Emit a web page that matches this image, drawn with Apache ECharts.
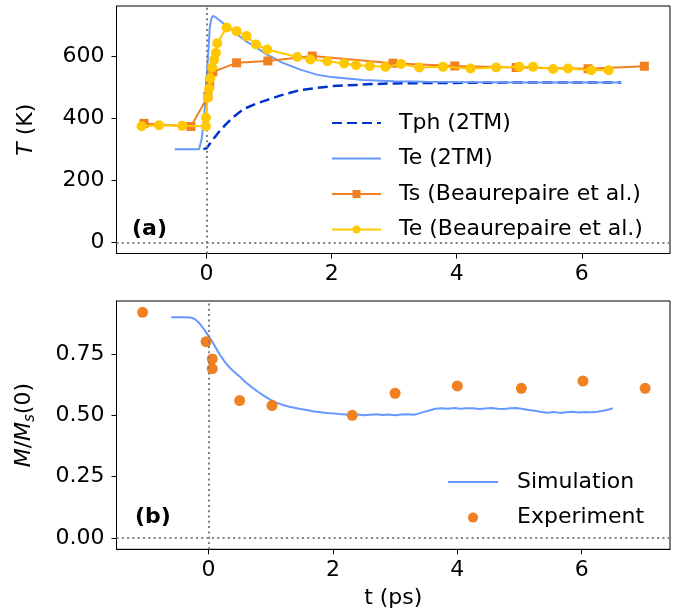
<!DOCTYPE html>
<html>
<head>
<meta charset="utf-8">
<script src="https://cdn.jsdelivr.net/npm/echarts@6/dist/echarts.min.js"></script>
<style>
html,body{margin:0;padding:0;background:#fff;}
#chart{width:677px;height:614px;}
</style>
</head>
<body>
<div id="chart"></div>
<script>
// ---- Panel (a): temperatures ----
const tphTime = [-0.05, 0, 0.1, 0.2, 0.3, 0.43, 0.6, 0.8, 0.96, 1.2, 1.49, 1.75, 2.02, 2.4, 2.82, 3.5, 4.5, 5.5, 6.63];
const tphTemp = [300, 303, 330, 356, 378, 404, 430, 447, 458, 474, 490, 497, 503, 507, 511, 513, 514, 515, 515];

const te2tmTime = [-0.51, -0.12, -0.08, -0.04, -0.02, 0, 0.03, 0.05, 0.08, 0.105, 0.15, 0.2, 0.27, 0.4, 0.5, 0.64, 0.8, 0.96, 1.22, 1.5, 1.76, 2.0, 2.5, 3.0, 3.5, 4.0, 5.0, 6.0, 6.63];
const te2tmTemp = [300, 300, 330, 400, 460, 530, 620, 690, 722, 729, 724, 716, 705, 685, 668, 646, 627, 605, 578, 556, 540, 532, 523, 519, 517, 516, 515, 515, 515];

const tsTime = [-1.0, -0.25, 0.02, 0.05, 0.1, 0.48, 0.98, 1.69, 2.98, 3.97, 4.95, 6.1, 7.0];
const tsTemp = [383, 373, 470, 506, 549, 578, 584, 600, 577, 568, 563, 559, 567];

const teBTime = [-1.04, -0.76, -0.39, -0.01, -0.01, 0.02, 0.04, 0.06, 0.09, 0.12, 0.15, 0.17, 0.32, 0.48, 0.64, 0.79, 0.97, 1.45, 1.66, 1.93, 2.2, 2.39, 2.61, 2.86, 3.11, 3.4, 3.78, 4.22, 4.63, 5.0, 5.22, 5.54, 5.78, 6.15, 6.43];
const teBTemp = [374, 377, 375, 374, 401, 466, 495, 528, 563, 588, 610, 641, 692, 680, 664, 637, 621, 597, 589, 583, 576, 570, 568, 565, 574, 563, 565, 560, 563, 565, 565, 558, 560, 554, 554];

const tempTicks = [0, 200, 400, 600];
const timeTicks = [0, 2, 4, 6];

// ---- Panel (b): magnetisation ----
const simTime = [-0.6, -0.5, -0.4, -0.3, -0.25, -0.2, -0.15, -0.1, -0.05, 0, 0.05, 0.1, 0.15, 0.2, 0.25, 0.3, 0.35, 0.4, 0.5, 0.6, 0.7, 0.8, 0.9, 1.0, 1.1, 1.2, 1.3, 1.4, 1.5, 1.6, 1.7, 1.8, 1.9, 2.0, 2.1, 2.2, 2.3, 2.4, 2.5, 2.6, 2.7, 2.8, 2.9, 3.0, 3.1, 3.2, 3.3, 3.35, 3.45, 3.55, 3.65, 3.75, 3.85, 3.95, 4.05, 4.15, 4.25, 4.35, 4.45, 4.55, 4.65, 4.75, 4.85, 4.95, 5.05, 5.15, 5.25, 5.35, 5.45, 5.55, 5.65, 5.75, 5.85, 5.95, 6.05, 6.15, 6.25, 6.35, 6.45, 6.5];
const simM = [0.900, 0.900, 0.900, 0.899, 0.896, 0.888, 0.876, 0.860, 0.842, 0.823, 0.805, 0.783, 0.760, 0.740, 0.722, 0.706, 0.692, 0.680, 0.658, 0.634, 0.614, 0.595, 0.578, 0.563, 0.551, 0.542, 0.535, 0.530, 0.525, 0.521, 0.516, 0.513, 0.510, 0.508, 0.505, 0.503, 0.501, 0.503, 0.500, 0.502, 0.504, 0.501, 0.503, 0.500, 0.503, 0.504, 0.502, 0.505, 0.513, 0.520, 0.527, 0.529, 0.527, 0.530, 0.527, 0.529, 0.529, 0.526, 0.528, 0.530, 0.527, 0.526, 0.529, 0.530, 0.526, 0.522, 0.519, 0.514, 0.511, 0.514, 0.510, 0.513, 0.515, 0.512, 0.514, 0.513, 0.515, 0.519, 0.525, 0.529];

const expTime = [-1.06, -0.04, 0.06, 0.06, 0.5, 1.02, 2.31, 3.0, 4.0, 5.03, 6.02, 7.02];
const expM = [0.92, 0.80, 0.73, 0.69, 0.56, 0.54, 0.50, 0.59, 0.62, 0.61, 0.64, 0.61];

const magTicks = [0, 0.25, 0.5, 0.75];

const zip = (a, b) => a.map((v, i) => [v, b[i]]);

const FONT = 'DejaVu Sans';
const C_DARK = '#0033cc', C_LIGHT = '#6699ff', C_ORANGE = '#f08020', C_GOLD = '#ffc800';

const dotted = {color: '#808080', type: [2, 3.3], width: 2};
function refLines() {
  return {
    silent: true, symbol: 'none', animation: false,
    label: {show: false},
    lineStyle: dotted,
    emphasis: {disabled: true},
    data: [{xAxis: 0}, {yAxis: 0}]
  };
}

function xAxisCfg(grid, min, max) {
  return {
    type: 'value', gridIndex: grid, min: min, max: max,
    splitLine: {show: false},
    axisLine: {show: true, onZero: false, lineStyle: {color: '#000', width: 1}},
    axisTick: {show: true, length: 5, lineStyle: {color: '#000'}, customValues: timeTicks},
    axisLabel: {show: true, margin: 10, color: '#000', fontSize: 22, fontFamily: FONT, customValues: timeTicks}
  };
}

const hiddenMarker = {opacity: 0, borderWidth: 0};

const option = {
  animation: false,
  backgroundColor: '#fff',
  textStyle: {fontFamily: FONT},
  grid: [
    {left: 116.5, top: 6, width: 553.5, height: 247.5, show: true, borderColor: '#000', borderWidth: 1, containLabel: false},
    {left: 116.5, top: 301, width: 553.5, height: 248.3, show: true, borderColor: '#000', borderWidth: 1, containLabel: false}
  ],
  xAxis: [
    xAxisCfg(0, -1.44, 7.41),
    Object.assign(xAxisCfg(1, -1.48, 7.42), {
      name: 't (ps)', nameLocation: 'middle', nameGap: 38,
      nameTextStyle: {fontSize: 22, color: '#000', fontFamily: FONT}
    })
  ],
  yAxis: [
    {
      type: 'value', gridIndex: 0, min: -36, max: 761,
      splitLine: {show: false},
      axisLine: {show: true, onZero: false, lineStyle: {color: '#000', width: 1}},
      axisTick: {show: true, length: 5, lineStyle: {color: '#000'}, customValues: tempTicks},
      axisLabel: {show: true, margin: 12, color: '#000', fontSize: 22, fontFamily: FONT, customValues: tempTicks},
      name: '{i|T} (K)', nameLocation: 'middle', nameGap: 79,
      nameTextStyle: {fontSize: 22, color: '#000', fontFamily: FONT,
        rich: {i: {fontStyle: 'italic', fontSize: 22, fontFamily: FONT, color: '#000'}}}
    },
    {
      type: 'value', gridIndex: 1, min: -0.046, max: 0.966,
      splitLine: {show: false},
      axisLine: {show: true, onZero: false, lineStyle: {color: '#000', width: 1}},
      axisTick: {show: true, length: 5, lineStyle: {color: '#000'}, customValues: magTicks},
      axisLabel: {show: true, margin: 12, color: '#000', fontSize: 22, fontFamily: FONT, customValues: magTicks,
        formatter: v => v.toFixed(2)},
      name: '{i|M}{n|/}{i|M}{s|s}{n|(0)}', nameLocation: 'middle', nameGap: 79,
      nameTextStyle: {fontSize: 22, color: '#000', fontFamily: FONT,
        rich: {
          i: {fontStyle: 'italic', fontSize: 22, fontFamily: FONT, color: '#000', lineHeight: 26, verticalAlign: 'middle'},
          n: {fontSize: 22, fontFamily: FONT, color: '#000', lineHeight: 26, verticalAlign: 'middle'},
          s: {fontStyle: 'italic', fontSize: 15, fontFamily: FONT, color: '#000', lineHeight: 12, verticalAlign: 'bottom'}
        }}
    }
  ],
  legend: [
    {
      orient: 'vertical', left: 331, top: 111, itemWidth: 49, itemHeight: 10, itemGap: 11.5,
      padding: 0, selectedMode: false,
      textStyle: {fontSize: 22, fontFamily: FONT, color: '#000', lineHeight: 24, padding: [0, 0, 0, 13]},
      data: [
        {name: 'Tph (2TM)', itemStyle: hiddenMarker},
        {name: 'Te (2TM)', itemStyle: hiddenMarker},
        'Ts (Beaurepaire et al.)',
        'Te (Beaurepaire et al.)'
      ]
    },
    {
      orient: 'vertical', left: 447, top: 470, itemWidth: 50, itemHeight: 10, itemGap: 11.6,
      padding: 0, selectedMode: false,
      textStyle: {fontSize: 22, fontFamily: FONT, color: '#000', lineHeight: 24, padding: [0, 0, 0, 14]},
      data: [
        {name: 'Simulation', itemStyle: hiddenMarker},
        'Experiment'
      ]
    }
  ],
  series: [
    {
      name: 'Tph (2TM)', type: 'line', xAxisIndex: 0, yAxisIndex: 0,
      data: zip(tphTime, tphTemp), symbol: 'none', color: C_DARK,
      lineStyle: {color: C_DARK, width: 2.5, type: [10, 5]},
      markLine: refLines(), z: 2
    },
    {
      name: 'Te (2TM)', type: 'line', xAxisIndex: 0, yAxisIndex: 0,
      data: zip(te2tmTime, te2tmTemp), symbol: 'none', color: C_LIGHT,
      lineStyle: {color: C_LIGHT, width: 2}, z: 3
    },
    {
      name: 'Ts (Beaurepaire et al.)', type: 'line', xAxisIndex: 0, yAxisIndex: 0,
      data: zip(tsTime, tsTemp), symbol: 'rect', symbolSize: 9, showAllSymbol: true, color: C_ORANGE,
      itemStyle: {color: C_ORANGE}, lineStyle: {color: C_ORANGE, width: 2}, z: 4
    },
    {
      name: 'Te (Beaurepaire et al.)', type: 'line', xAxisIndex: 0, yAxisIndex: 0,
      data: zip(teBTime, teBTemp), symbol: 'circle', symbolSize: 10, showAllSymbol: true, color: C_GOLD,
      itemStyle: {color: C_GOLD}, lineStyle: {color: C_GOLD, width: 2}, z: 5
    },
    {
      name: 'Simulation', type: 'line', xAxisIndex: 1, yAxisIndex: 1,
      data: zip(simTime, simM), symbol: 'none', color: C_LIGHT,
      lineStyle: {color: C_LIGHT, width: 2}, markLine: refLines(), z: 2
    },
    {
      name: 'Experiment', type: 'scatter', xAxisIndex: 1, yAxisIndex: 1,
      data: zip(expTime, expM), symbol: 'circle', symbolSize: 11, color: C_ORANGE,
      itemStyle: {color: C_ORANGE, opacity: 1}, z: 3
    }
  ],
  graphic: [
    {type: 'text', left: 132, top: 218, style: {text: '(a)', font: 'bold 22px "DejaVu Sans"', fill: '#000'}},
    {type: 'text', left: 135, top: 506, style: {text: '(b)', font: 'bold 22px "DejaVu Sans"', fill: '#000'}}
  ]
};

const chart = echarts.init(document.getElementById('chart'), null, {renderer: 'canvas'});
chart.setOption(option);
</script>
</body>
</html>
